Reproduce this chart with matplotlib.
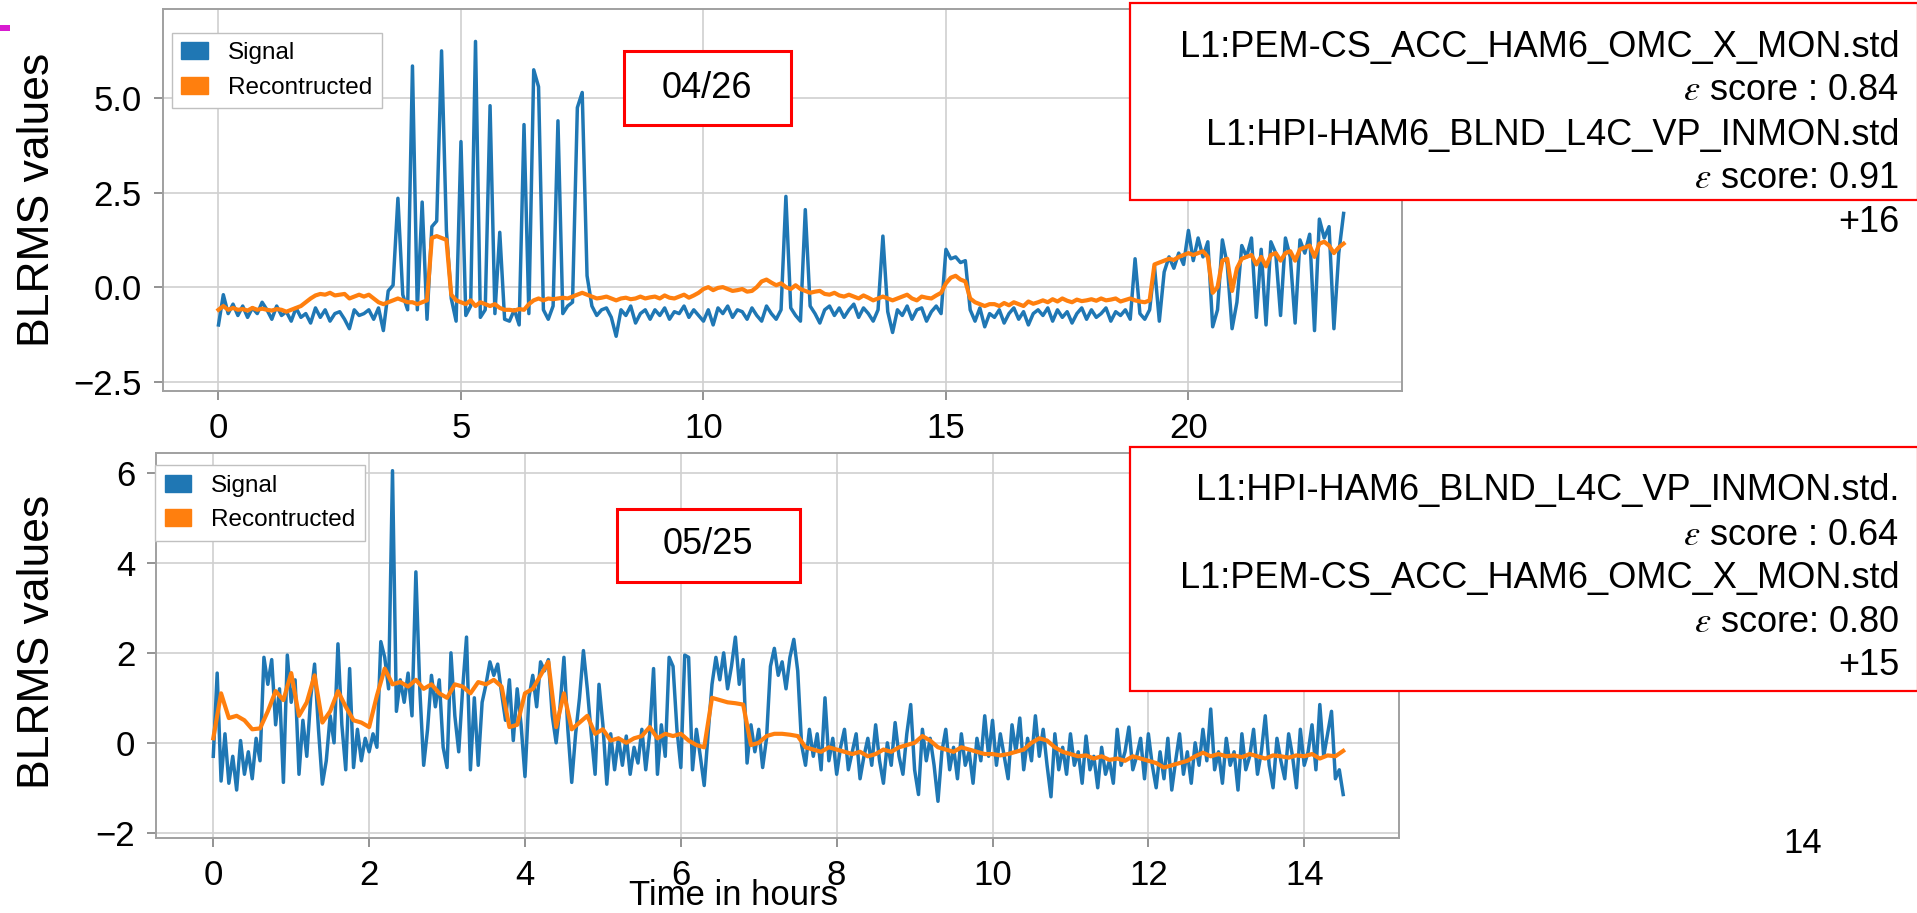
import numpy as np
import matplotlib
matplotlib.use("Agg")
import matplotlib.pyplot as plt
from matplotlib.patches import Patch, Rectangle

plt.rcParams['font.family'] = ['Liberation Sans', 'DejaVu Sans']

W, H = 1917, 913
BLUE = '#1f77b4'
ORANGE = '#ff7f0e'

# ---- top panel (04/26), one sample every 0.1 h from 0 to 23.2 h
top_signal = [
    -1.0, -0.2, -0.7, -0.45, -0.75, -0.5, -0.8, -0.55, -0.7, -0.4,
    -0.6, -0.85, -0.5, -0.75, -0.65, -0.9, -0.55, -0.8, -0.7, -0.95,
    -0.55, -0.8, -0.6, -0.9, -0.7, -0.65, -0.85, -1.1, -0.6, -0.75,
    -0.7, -0.6, -0.85, -0.55, -1.15, -0.1, 0.05, 2.35, -0.2, -0.6,
    5.85, -0.6, 2.25, -0.85, 1.6, 1.75, 6.25, 1.5, -0.3, -0.9,
    3.85, -0.75, -0.5, 6.5, -0.8, -0.6, 4.8, -0.7, 1.45, -0.85,
    -0.9, -0.6, -1.0, 4.3, -0.7, 5.75, 5.3, -0.6, -0.85, -0.5,
    4.4, -0.7, -0.5, -0.4, 4.75, 5.15, 0.3, -0.5, -0.75, -0.6,
    -0.55, -0.8, -1.3, -0.6, -0.75, -0.5, -0.95, -0.7, -0.6, -0.85,
    -0.6, -0.75, -0.55, -0.85, -0.65, -0.7, -0.5, -0.8, -0.6, -0.75,
    -0.9, -0.6, -1.0, -0.55, -0.7, -0.5, -0.8, -0.6, -0.65, -0.85,
    -0.55, -0.75, -0.9, -0.5, -0.7, -0.85, -0.6, 2.4, -0.55, -0.75,
    -0.9, 2.05, -0.5, -0.7, -0.95, -0.6, -0.5, -0.75, -0.55, -0.8,
    -0.6, -0.45, -0.8, -0.55, -0.7, -0.9, -0.6, 1.35, -0.65, -1.2,
    -0.6, -0.75, -0.5, -0.85, -0.6, -0.55, -0.9, -0.65, -0.5, -0.7,
    1.0, 0.75, 0.8, 0.65, 0.7, -0.6, -0.9, -0.55, -1.05, -0.7,
    -0.8, -0.6, -0.95, -0.7, -0.55, -0.85, -0.65, -1.0, -0.7, -0.6,
    -0.75, -0.55, -0.9, -0.6, -0.8, -0.65, -0.95, -0.7, -0.55, -0.85,
    -0.6, -0.8, -0.7, -0.55, -0.9, -0.65, -0.75, -0.6, -0.85, 0.75,
    -0.7, -0.85, -0.6, 0.55, -0.9, 0.4, 0.8, 0.5, 0.9, 0.6,
    1.5, 0.7, 1.3, 0.8, 1.2, -1.05, -0.6, 1.25, 0.6, -1.1,
    -0.4, 1.1, 0.8, 1.3, -0.8, 1.0, -1.0, 1.2, 0.9, -0.75,
    1.3, 0.8, -0.95, 1.25, 0.9, 1.4, -1.15, 1.8, 1.3, 1.6,
    -1.1, 0.9, 1.95,
]
top_recon = [
    -0.6, -0.5, -0.6, -0.55, -0.6, -0.58, -0.62, -0.55, -0.6, -0.57,
    -0.6, -0.62, -0.58, -0.6, -0.65, -0.6, -0.55, -0.5, -0.4, -0.3,
    -0.22, -0.18, -0.2, -0.15, -0.22, -0.2, -0.18, -0.3, -0.25, -0.2,
    -0.25, -0.2, -0.3, -0.4, -0.45, -0.4, -0.35, -0.3, -0.35, -0.4,
    -0.4, -0.45, -0.4, -0.35, 1.3, 1.35, 1.3, 1.25, -0.2, -0.35,
    -0.4, -0.45, -0.35, -0.5, -0.4, -0.45, -0.5, -0.45, -0.55, -0.6,
    -0.6, -0.62, -0.58, -0.6, -0.45, -0.35, -0.3, -0.35, -0.3, -0.32,
    -0.3, -0.28, -0.3, -0.25, -0.2, -0.15, -0.2, -0.25, -0.3, -0.28,
    -0.25, -0.3, -0.35, -0.3, -0.28, -0.32, -0.3, -0.25, -0.3, -0.27,
    -0.25, -0.3, -0.22, -0.28, -0.3, -0.25, -0.2, -0.28, -0.22, -0.15,
    -0.05, 0.0, -0.08, -0.02, 0.0, -0.05, -0.1, -0.08, -0.05, -0.12,
    -0.1, 0.0, 0.15, 0.2, 0.12, 0.05, 0.1, 0.0, -0.05, 0.05,
    -0.05, -0.1, -0.15, -0.12, -0.1, -0.18, -0.2, -0.15, -0.22, -0.25,
    -0.2, -0.25, -0.3, -0.22, -0.28, -0.35, -0.3, -0.25, -0.3, -0.35,
    -0.3, -0.25, -0.2, -0.3, -0.35, -0.25, -0.28, -0.3, -0.22, -0.15,
    0.1, 0.25, 0.3, 0.2, 0.15, -0.3, -0.4, -0.45, -0.5, -0.45,
    -0.45, -0.5, -0.42, -0.48, -0.4, -0.45, -0.5, -0.38, -0.44, -0.4,
    -0.35, -0.4, -0.32, -0.38, -0.3, -0.36, -0.4, -0.33, -0.37, -0.35,
    -0.32, -0.36, -0.3, -0.35, -0.33, -0.3, -0.38, -0.34, -0.3, -0.35,
    -0.38, -0.4, -0.35, 0.6, 0.65, 0.7, 0.75, 0.72, 0.8, 0.85,
    0.9, 0.85, 0.9, 0.95, 0.8, -0.15, 0.0, 0.7, 0.75, -0.1,
    0.5, 0.75, 0.8, 0.85, 0.6, 0.8, 0.55, 0.85, 0.9, 0.7,
    0.9, 0.95, 0.7, 1.0, 1.05, 1.1, 0.8, 1.15, 1.2, 1.1,
    0.9, 1.05, 1.15,
]

# ---- bottom panel (05/25): signal every 0.05 h, reconstruction every 0.1 h, 0 to 14.5 h
bot_signal = [
    -0.3, 1.55, -0.85, 0.2, -0.9, -0.3, -1.05, 0.05, -0.7, -0.2, -0.8, 0.1, -0.4, 1.9, 1.3, 1.85, 0.4, 1.2, -0.88, 1.95,
    0.9, 1.4, -0.7, 0.5, -0.3, 1.0, 1.75, 0.3, -0.92, -0.4, 0.6, 0.0, 2.2, 0.4, -0.6, 1.65, -0.55, 0.3, -0.4, 0.1,
    -0.2, 0.2, -0.1, 2.25, 1.9, 1.2, 6.05, 0.7, 1.4, 0.9, 1.55, 0.6, 3.8, 1.2, -0.5, 0.3, 1.5, 0.8, 1.4, -0.1,
    -0.55, 2.0, 0.6, -0.2, 1.2, 2.35, -0.6, 1.0, -0.5, 0.9, 1.3, 1.8, 1.5, 1.75, 1.1, 0.5, 1.4, 0.05, 1.2, 0.4,
    -0.75, 1.0, 1.5, 0.8, 1.8, 1.6, 1.85, 0.6, 0.0, 0.8, 1.9, 0.3, -0.88, 0.2, 1.0, 2.05, 1.2, 0.2, -0.7, 1.3,
    0.4, -0.92, 0.2, -0.6, 0.1, -0.5, 0.15, -0.7, -0.1, -0.45, 0.3, -0.6, 0.2, 1.65, -0.7, 0.4, -0.3, 1.9, 1.7, 0.3,
    -0.55, 1.95, 1.9, -0.6, 0.3, -0.3, -0.95, 0.2, 1.3, 1.9, 1.4, 2.0, 1.2, 1.7, 2.35, 1.3, 1.85, -0.45, 0.4, -0.2,
    0.3, -0.55, 0.1, 1.7, 2.1, 1.5, 1.8, 1.2, 1.9, 2.3, 1.6, -0.05, -0.5, 0.3, -0.3, 0.2, -0.6, 1.0, -0.4, 0.1,
    -0.7, -0.1, 0.3, -0.6, -0.2, 0.2, -0.8, -0.3, 0.1, -0.5, 0.4, -0.4, -0.9, 0.0, -0.5, 0.45, -0.3, -0.7, 0.2, 0.85,
    -0.6, -1.15, 0.3, -0.4, 0.1, -0.5, -1.3, -0.2, 0.3, -0.6, -0.1, -0.8, 0.2, -0.5, -0.2, -0.9, 0.1, -0.4, 0.6, -0.3,
    0.5, -0.5, 0.2, -0.3, -0.8, 0.4, -0.2, 0.55, -0.6, 0.1, -0.4, 0.6, -0.3, 0.3, -0.5, -1.2, 0.2, -0.6, -0.1, -0.7,
    0.2, -0.5, -0.2, -0.9, 0.15, -0.6, -0.3, -1.0, -0.1, -0.7, -0.4, -0.9, 0.3, -0.5, -0.2, 0.35, -0.6, -0.3, 0.1, -0.8,
    0.2, -0.5, -1.0, -0.2, -0.8, 0.1, -1.05, -0.4, 0.2, -0.7, -0.2, -0.9, 0.0, -0.5, 0.3, -0.4, 0.75, -0.6, -0.2, -0.9,
    0.1, -0.5, -0.2, -1.05, 0.2, -0.6, -0.3, 0.3, -0.7, -0.2, 0.6, -0.5, -1.0, 0.1, -0.4, -0.8, 0.2, -0.3, -1.0, 0.3,
    -0.5, -0.2, 0.4, -0.6, 0.85, -0.3, 0.2, 0.7, -0.8, -0.6, -1.15,
]
bot_recon = [
    0.1, 1.1, 0.55, 0.6, 0.5, 0.3, 0.32, 0.7, 1.15, 0.95,
    1.55, 0.6, 0.9, 1.5, 0.45, 0.7, 1.15, 0.8, 0.5, 0.45,
    0.35, 1.05, 1.65, 1.3, 1.35, 1.25, 1.4, 1.2, 1.3, 1.1,
    1.0, 1.3, 1.25, 1.1, 1.35, 1.3, 1.4, 1.25, 0.35, 0.4,
    1.1, 1.2, 1.5, 1.8, 0.35, 1.1, 0.3, 0.45, 0.6, 0.2,
    0.3, 0.05, 0.1, 0.0, 0.1, 0.15, 0.35, 0.1, 0.2, 0.15,
    0.2, 0.05, -0.05, -0.1, 1.0, 0.95, 0.9, 0.88, 0.85, -0.05,
    0.0, 0.15, 0.2, 0.2, 0.18, 0.15, -0.1, -0.15, -0.2, -0.1,
    -0.15, -0.2, -0.25, -0.2, -0.3, -0.25, -0.15, -0.2, -0.1, -0.05,
    0.0, 0.15, 0.05, -0.1, -0.15, -0.2, -0.1, -0.15, -0.2, -0.25,
    -0.25, -0.28, -0.25, -0.2, -0.15, 0.0, 0.1, 0.05, -0.1, -0.2,
    -0.25, -0.3, -0.28, -0.35, -0.3, -0.38, -0.35, -0.4, -0.3, -0.35,
    -0.4, -0.45, -0.55, -0.5, -0.45, -0.4, -0.3, -0.22, -0.3, -0.25,
    -0.3, -0.28, -0.32, -0.25, -0.3, -0.35, -0.28, -0.3, -0.33, -0.28,
    -0.3, -0.25, -0.35, -0.28, -0.3, -0.18,
]

top_yticks = [-2.5, 0.0, 2.5, 5.0]
top_xticks = [0, 5, 10, 15, 20]
bot_yticks = [-2, 0, 2, 4, 6]
bot_xticks = [0, 2, 4, 6, 8, 10, 12, 14]

top_box_lines = ['L1:PEM-CS_ACC_HAM6_OMC_X_MON.std', r'$\varepsilon$ score : 0.84',
                 'L1:HPI-HAM6_BLND_L4C_VP_INMON.std', r'$\varepsilon$ score: 0.91', '+16']
bot_box_lines = ['L1:HPI-HAM6_BLND_L4C_VP_INMON.std.', r'$\varepsilon$ score : 0.64',
                 'L1:PEM-CS_ACC_HAM6_OMC_X_MON.std', r'$\varepsilon$ score: 0.80', '+15']


def fx(x):
    return x / W


def fy(y):
    return 1 - y / H


def panel(rect, t_sig, sig, t_rec, rec, xlim, ylim, xticks, yticks, leg_xy):
    l, t, r, b = rect
    ax = fig.add_axes([fx(l), fy(b), (r - l) / W, (b - t) / H])
    ax.plot(t_sig, sig, color=BLUE, lw=2.5)
    ax.plot(t_rec, rec, color=ORANGE, lw=3.0)
    ax.set_xlim(*xlim)
    ax.set_ylim(*ylim)
    ax.set_xticks(xticks)
    ax.set_yticks(yticks)
    ax.grid(True, color='#d0d0d0', lw=1.2)
    ax.set_axisbelow(True)
    for s in ax.spines.values():
        s.set_color('#a0a0a0')
        s.set_linewidth(1.4)
    ax.tick_params(labelsize=25, length=6.5, width=1.2, color='#808080', pad=8.5)
    handles = [Patch(color=BLUE, label='Signal'), Patch(color=ORANGE, label='Recontructed')]
    ax.legend(handles=handles, loc='upper left', bbox_to_anchor=(fx(leg_xy[0]), fy(leg_xy[1])),
              bbox_transform=fig.transFigure, borderaxespad=0, fontsize=17.5,
              handlelength=1.1, handleheight=0.7, fancybox=False, edgecolor='#c0c0c0',
              framealpha=1)
    return ax


def red_box(x0, y0, x1, y1, lw):
    fig.patches.append(Rectangle((fx(x0), fy(y1)), (x1 - x0) / W, (y1 - y0) / H,
                                 transform=fig.transFigure, facecolor='white',
                                 edgecolor='#ff0000', lw=lw, zorder=2))


fig = plt.figure(figsize=(W / 100, H / 100), dpi=100)

t_top = np.round(np.arange(len(top_signal)) * 0.1, 2)
t_top_rec = np.round(np.arange(len(top_recon)) * 0.1, 2)
panel((162.7, 9.3, 1402.3, 390.7), t_top, top_signal, t_top_rec, top_recon,
      (-1.15, 24.41), (-2.74, 7.35), top_xticks, top_yticks, (171.7, 32.7))

t_bot = np.round(np.arange(len(bot_signal)) * 0.05, 2)
t_bot_rec = np.round(np.arange(len(bot_recon)) * 0.1, 2)
panel((156, 452.7, 1399.3, 837.7), t_bot, bot_signal, t_bot_rec, bot_recon,
      (-0.735, 15.22), (-2.11, 6.45), bot_xticks, bot_yticks, (155, 465))

# y labels
fig.text(fx(38), fy(200), 'BLRMS values', rotation=90, fontsize=32, ha='center', va='center')
fig.text(fx(38), fy(642), 'BLRMS values', rotation=90, fontsize=32, ha='center', va='center')

# date boxes
red_box(624, 51, 791, 125, 2.2)
fig.text(fx(707), fy(88), '04/26', fontsize=26, ha='center', va='center', zorder=3)
red_box(617, 509, 800, 582, 2.2)
fig.text(fx(708), fy(545), '05/25', fontsize=26, ha='center', va='center', zorder=3)

# channel boxes
red_box(1130, 3, 1918, 200, 1.6)
for txt, yb in zip(top_box_lines, [57, 100, 145, 188, 232]):
    fig.text(fx(1899), fy(yb), txt, fontsize=26, ha='right', va='baseline',
             math_fontfamily='stix', zorder=3)
red_box(1130, 447, 1918, 691, 1.6)
for txt, yb in zip(bot_box_lines, [500, 545, 588, 632, 675]):
    fig.text(fx(1899), fy(yb), txt, fontsize=26, ha='right', va='baseline',
             math_fontfamily='stix', zorder=3)

fig.text(fx(733), fy(905), 'Time in hours', fontsize=25, ha='center', va='baseline')
fig.text(fx(1803), fy(853), '14', fontsize=25, ha='center', va='baseline')

# small magenta mark at the top-left corner of the slide
fig.patches.append(Rectangle((0, fy(31)), fx(10), 6 / H, transform=fig.transFigure,
                             facecolor='#d81bd0', edgecolor='none'))

fig.savefig('out.png', dpi=100)
